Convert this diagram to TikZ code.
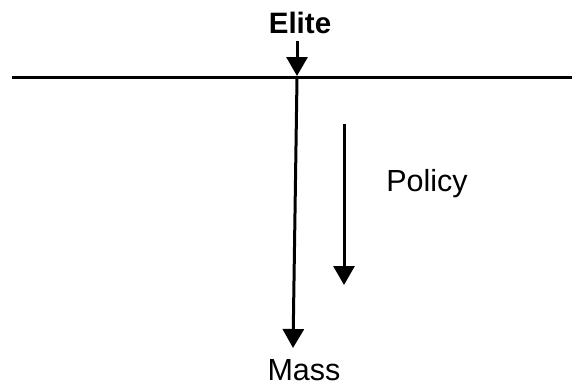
\documentclass[tikz,border=0pt]{standalone}
\usepackage{fontspec}
\setmainfont{Liberation Sans}
\usetikzlibrary{arrows.meta}
\tikzset{
  lbl/.style={inner sep=0pt, anchor=base, font=\fontsize{30.5}{33}\selectfont},
  conn/.style={line width=3pt, -{Triangle[length=19pt,width=21pt]}},
  rule/.style={line width=3pt}
}
\begin{document}
\begin{tikzpicture}[x=1pt,y=-1pt]
\useasboundingbox (0,0) rectangle (572,386);
\node[lbl, font=\fontsize{29.5}{32}\selectfont\bfseries] (elite) at (300,33) {Elite};
\node[lbl] (mass) at (304,380) {Mass};
\node[lbl] (policy) at (427,191) {Policy};
\coordinate (lineL) at (12,77.5);
\coordinate (lineR) at (572,77.5);
\coordinate (topS) at (297,41);
\coordinate (topE) at (297,76);
\coordinate (longS) at (297,78);
\coordinate (longE) at (293,348);
\coordinate (polS) at (344,124);
\coordinate (polE) at (344,285);
\draw[rule] (lineL) -- (lineR);
\draw[conn] (topS) -- (topE);
\draw[conn] (longS) -- (longE);
\draw[conn] (polS) -- (polE);
\end{tikzpicture}
\end{document}
